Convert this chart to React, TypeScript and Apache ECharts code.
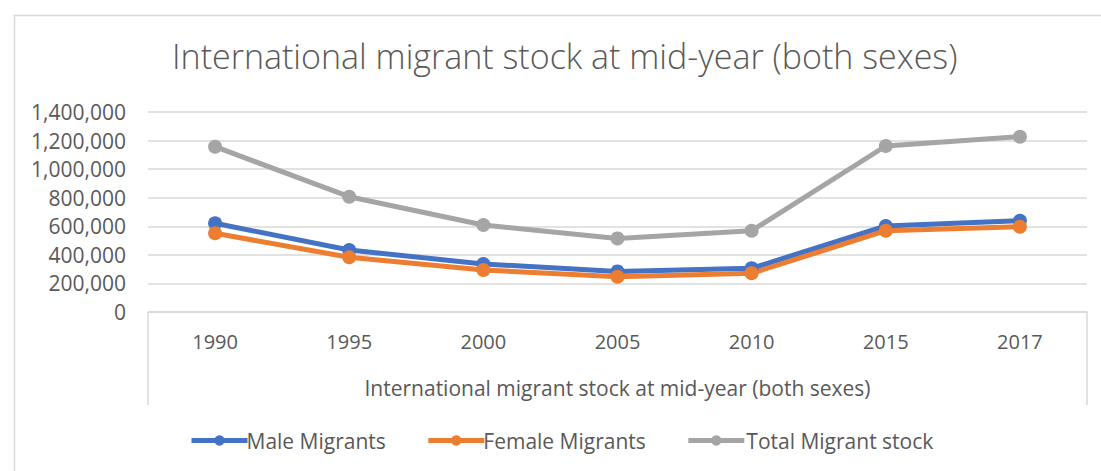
import React, { useEffect, useRef } from "react";
import * as echarts from "echarts";

const years = ["1990", "1995", "2000", "2005", "2010", "2015", "2017"];
const maleMigrants = [621000, 434000, 336000, 284000, 306000, 602000, 639000];
const femaleMigrants = [551000, 383000, 294000, 247000, 271000, 569000, 597000];
const totalMigrants = [1157000, 807000, 609000, 515000, 569000, 1162000, 1227000];

const FONT = "'Open Sans', sans-serif";
const TEXT = "#595959";
const GRID = "#D9D9D9";

export default function App() {
  const ref = useRef<HTMLDivElement>(null);
  useEffect(() => {
    document.body.style.margin = "0";
    const chart = echarts.init(ref.current!, null, { renderer: "svg" });
    const gl = 148, gr = 1087, gt = 112, gb = 312;
    const mk = (name: string, data: number[], color: string) => ({
      name,
      type: "line",
      data,
      symbol: "circle",
      symbolSize: 14,
      lineStyle: { width: 5, color },
      itemStyle: { color },
      z: 3,
    });
    chart.setOption({
      animation: false,
      textStyle: { fontFamily: FONT },
      title: {
        text: "International migrant stock at mid-year (both sexes)",
        left: 167,
        top: 34,
        textStyle: { fontFamily: FONT, fontSize: 34, fontWeight: 300, color: TEXT },
      },
      legend: {
        left: 184,
        top: 425,
        itemWidth: 56,
        itemHeight: 13,
        itemGap: 40,
        lineStyle: { width: 5 },
        textStyle: { fontFamily: FONT, fontSize: 21, color: TEXT, padding: [0, 0, 0, -6] },
        data: [
          { name: "Male Migrants" },
          { name: "Female Migrants", textStyle: { padding: [0, 9, 0, -6] } },
          { name: "Total Migrant stock", textStyle: { padding: [0, 0, 0, -3] } },
        ],
      },
      grid: { left: gl, right: 1101 - gr, top: gt, bottom: 471 - gb, containLabel: false },
      xAxis: {
        type: "category",
        data: years,
        boundaryGap: true,
        name: "International migrant stock at mid-year (both sexes)",
        nameLocation: "middle",
        nameGap: 65,
        nameTextStyle: { fontFamily: FONT, fontSize: 21, color: TEXT, verticalAlign: "top" },
        axisLine: { show: true, lineStyle: { color: GRID, width: 1.5 } },
        axisTick: { show: false },
        axisLabel: { fontFamily: FONT, fontSize: 20, color: TEXT, margin: 19 },
      },
      yAxis: {
        type: "value",
        min: 0,
        max: 1400000,
        interval: 200000,
        axisLine: { show: false },
        axisTick: { show: false },
        splitLine: { lineStyle: { color: GRID, width: 1.5 } },
        axisLabel: {
          fontFamily: FONT,
          fontSize: 21,
          color: TEXT,
          margin: 22,
          formatter: (v: number) => v.toLocaleString("en-US"),
        },
      },
      graphic: [
        {
          type: "rect",
          left: 12,
          top: 13,
          shape: { width: 1200, height: 600 },
          style: { fill: "none", stroke: GRID, lineWidth: 1.5 },
          silent: true,
        },
        {
          type: "line",
          shape: { x1: gl, y1: gb, x2: gl, y2: 405 },
          style: { stroke: GRID, lineWidth: 1.5 },
          silent: true,
        },
        {
          type: "line",
          shape: { x1: gr, y1: gb, x2: gr, y2: 405 },
          style: { stroke: GRID, lineWidth: 1.5 },
          silent: true,
        },
      ],
      series: [
        mk("Male Migrants", maleMigrants, "#4472C4"),
        mk("Female Migrants", femaleMigrants, "#ED7D31"),
        mk("Total Migrant stock", totalMigrants, "#A5A5A5"),
      ],
    });
    return () => chart.dispose();
  }, []);
  return <div ref={ref} style={{ width: 1101, height: 471 }} />;
}
